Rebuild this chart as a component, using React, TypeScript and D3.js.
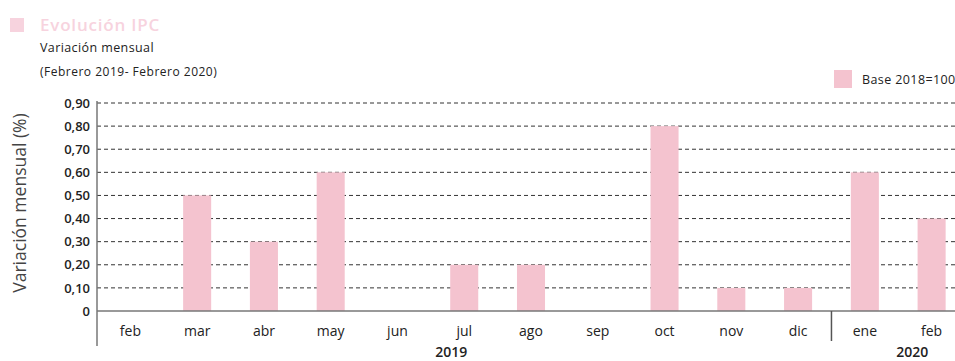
import React, { useEffect, useRef } from 'react';
import * as d3 from 'd3';

const months = ['feb', 'mar', 'abr', 'may', 'jun', 'jul', 'ago', 'sep', 'oct', 'nov', 'dic', 'ene', 'feb'];
const years = ['2019', '2019', '2019', '2019', '2019', '2019', '2019', '2019', '2019', '2019', '2019', '2020', '2020'];
const values = [0, 0.5, 0.3, 0.6, 0, 0.2, 0.2, 0, 0.8, 0.1, 0.1, 0.6, 0.4];
const yTicks = [0, 0.1, 0.2, 0.3, 0.4, 0.5, 0.6, 0.7, 0.8, 0.9];

const W = 955;
const H = 361;
const FONT = '"Open Sans", "Noto Sans", sans-serif';
const PINK = '#f4c3cf';

const App: React.FC = () => {
    const ref = useRef<SVGSVGElement>(null);

    useEffect(() => {
        if (!ref.current) return;
        const svg = d3.select(ref.current);
        svg.selectAll('*').remove();

        const left = 97, right = 965, top = 103, bottom = 311;

        const x = d3.scaleBand<number>()
            .domain(months.map((_, i) => i))
            .range([left, right])
            .paddingInner(0.58)
            .paddingOuter(0.29);

        const y = d3.scaleLinear().domain([0, 0.9]).range([bottom, top]);

        // Header
        svg.append('rect').attr('x', 10).attr('y', 18).attr('width', 14).attr('height', 14).attr('fill', '#f7d3de');
        svg.append('text').attr('x', 40).attr('y', 31).attr('font-family', FONT).attr('font-size', 17)
            .attr('font-weight', 600).attr('letter-spacing', 0.8).attr('fill', '#f7d3de').text('Evolución IPC');
        svg.append('text').attr('x', 40).attr('y', 52).attr('font-family', FONT).attr('font-size', 12.5)
            .attr('letter-spacing', 0.4).attr('fill', '#222').text('Variación mensual');
        svg.append('text').attr('x', 40).attr('y', 76).attr('font-family', FONT).attr('font-size', 12)
            .attr('letter-spacing', 0.5).attr('fill', '#222').text('(Febrero 2019- Febrero 2020)');

        // Legend
        svg.append('rect').attr('x', 834).attr('y', 70).attr('width', 18).attr('height', 18).attr('fill', PINK);
        svg.append('text').attr('x', 862).attr('y', 84).attr('font-family', FONT).attr('font-size', 12.5)
            .attr('letter-spacing', 0.4).attr('fill', '#222').text('Base 2018=100');

        // Gridlines
        svg.append('g').selectAll('line')
            .data(yTicks.filter(t => t > 0))
            .enter().append('line')
            .attr('x1', left).attr('x2', W)
            .attr('y1', d => y(d)).attr('y2', d => y(d))
            .attr('stroke', '#333').attr('stroke-width', 1).attr('stroke-dasharray', '4,3');

        // Bars
        svg.append('g').selectAll('rect')
            .data(values)
            .enter().append('rect')
            .attr('x', (_, i) => x(i) as number)
            .attr('width', x.bandwidth())
            .attr('y', d => y(d))
            .attr('height', d => bottom - y(d))
            .attr('fill', PINK);

        // Y axis
        const yAxis = svg.append('g')
            .attr('transform', `translate(${left},0)`)
            .call(d3.axisLeft(y).tickValues(yTicks).tickSize(0).tickPadding(7)
                .tickFormat(d => (+d === 0 ? '0' : d3.format('.2f')(+d).replace('.', ','))));
        yAxis.select('.domain').remove();
        yAxis.selectAll('text').attr('font-family', FONT).attr('font-size', 13).attr('font-weight', 600).attr('fill', '#222');

        svg.append('line').attr('x1', left).attr('x2', left).attr('y1', top - 2).attr('y2', 346)
            .attr('stroke', '#777').attr('stroke-width', 1.5);
        svg.append('line').attr('x1', left).attr('x2', W).attr('y1', bottom).attr('y2', bottom)
            .attr('stroke', '#777').attr('stroke-width', 1.5);

        // X axis labels
        const xAxis = svg.append('g')
            .attr('transform', `translate(0,${bottom})`)
            .call(d3.axisBottom(x).tickSize(0).tickPadding(15).tickFormat(i => months[i as number]));
        xAxis.select('.domain').remove();
        xAxis.selectAll('text').attr('font-family', FONT).attr('font-size', 14).attr('fill', '#222');

        // Year divider and labels
        const splitIdx = years.indexOf('2020');
        const splitX = (x(splitIdx - 1)! + x.bandwidth() + x(splitIdx)!) / 2;
        svg.append('line').attr('x1', splitX).attr('x2', splitX).attr('y1', bottom).attr('y2', 341)
            .attr('stroke', '#555').attr('stroke-width', 1.5);

        const yearGroups = d3.groups(years, d => d).map(g => g[0]);
        svg.append('g').selectAll('text')
            .data(yearGroups)
            .enter().append('text')
            .attr('x', yr => (yr === '2019' ? (left + splitX) / 2 - 13 : (splitX + right) / 2 + 14))
            .attr('y', 357)
            .attr('text-anchor', 'middle')
            .attr('font-family', FONT).attr('font-size', 14).attr('font-weight', 600).attr('fill', '#222')
            .text(yr => yr);

        // Y axis title
        svg.append('text')
            .attr('transform', `translate(26,${(top + bottom) / 2 - 4}) rotate(-90)`)
            .attr('text-anchor', 'middle')
            .attr('font-family', FONT).attr('font-size', 17.5).attr('fill', '#444')
            .text('Variación mensual (%)');
    }, []);

    return (
        <svg ref={ref} width={W} height={H}
            style={{ position: 'absolute', left: 0, top: 0, background: '#fff' }} />
    );
};

export default App;
